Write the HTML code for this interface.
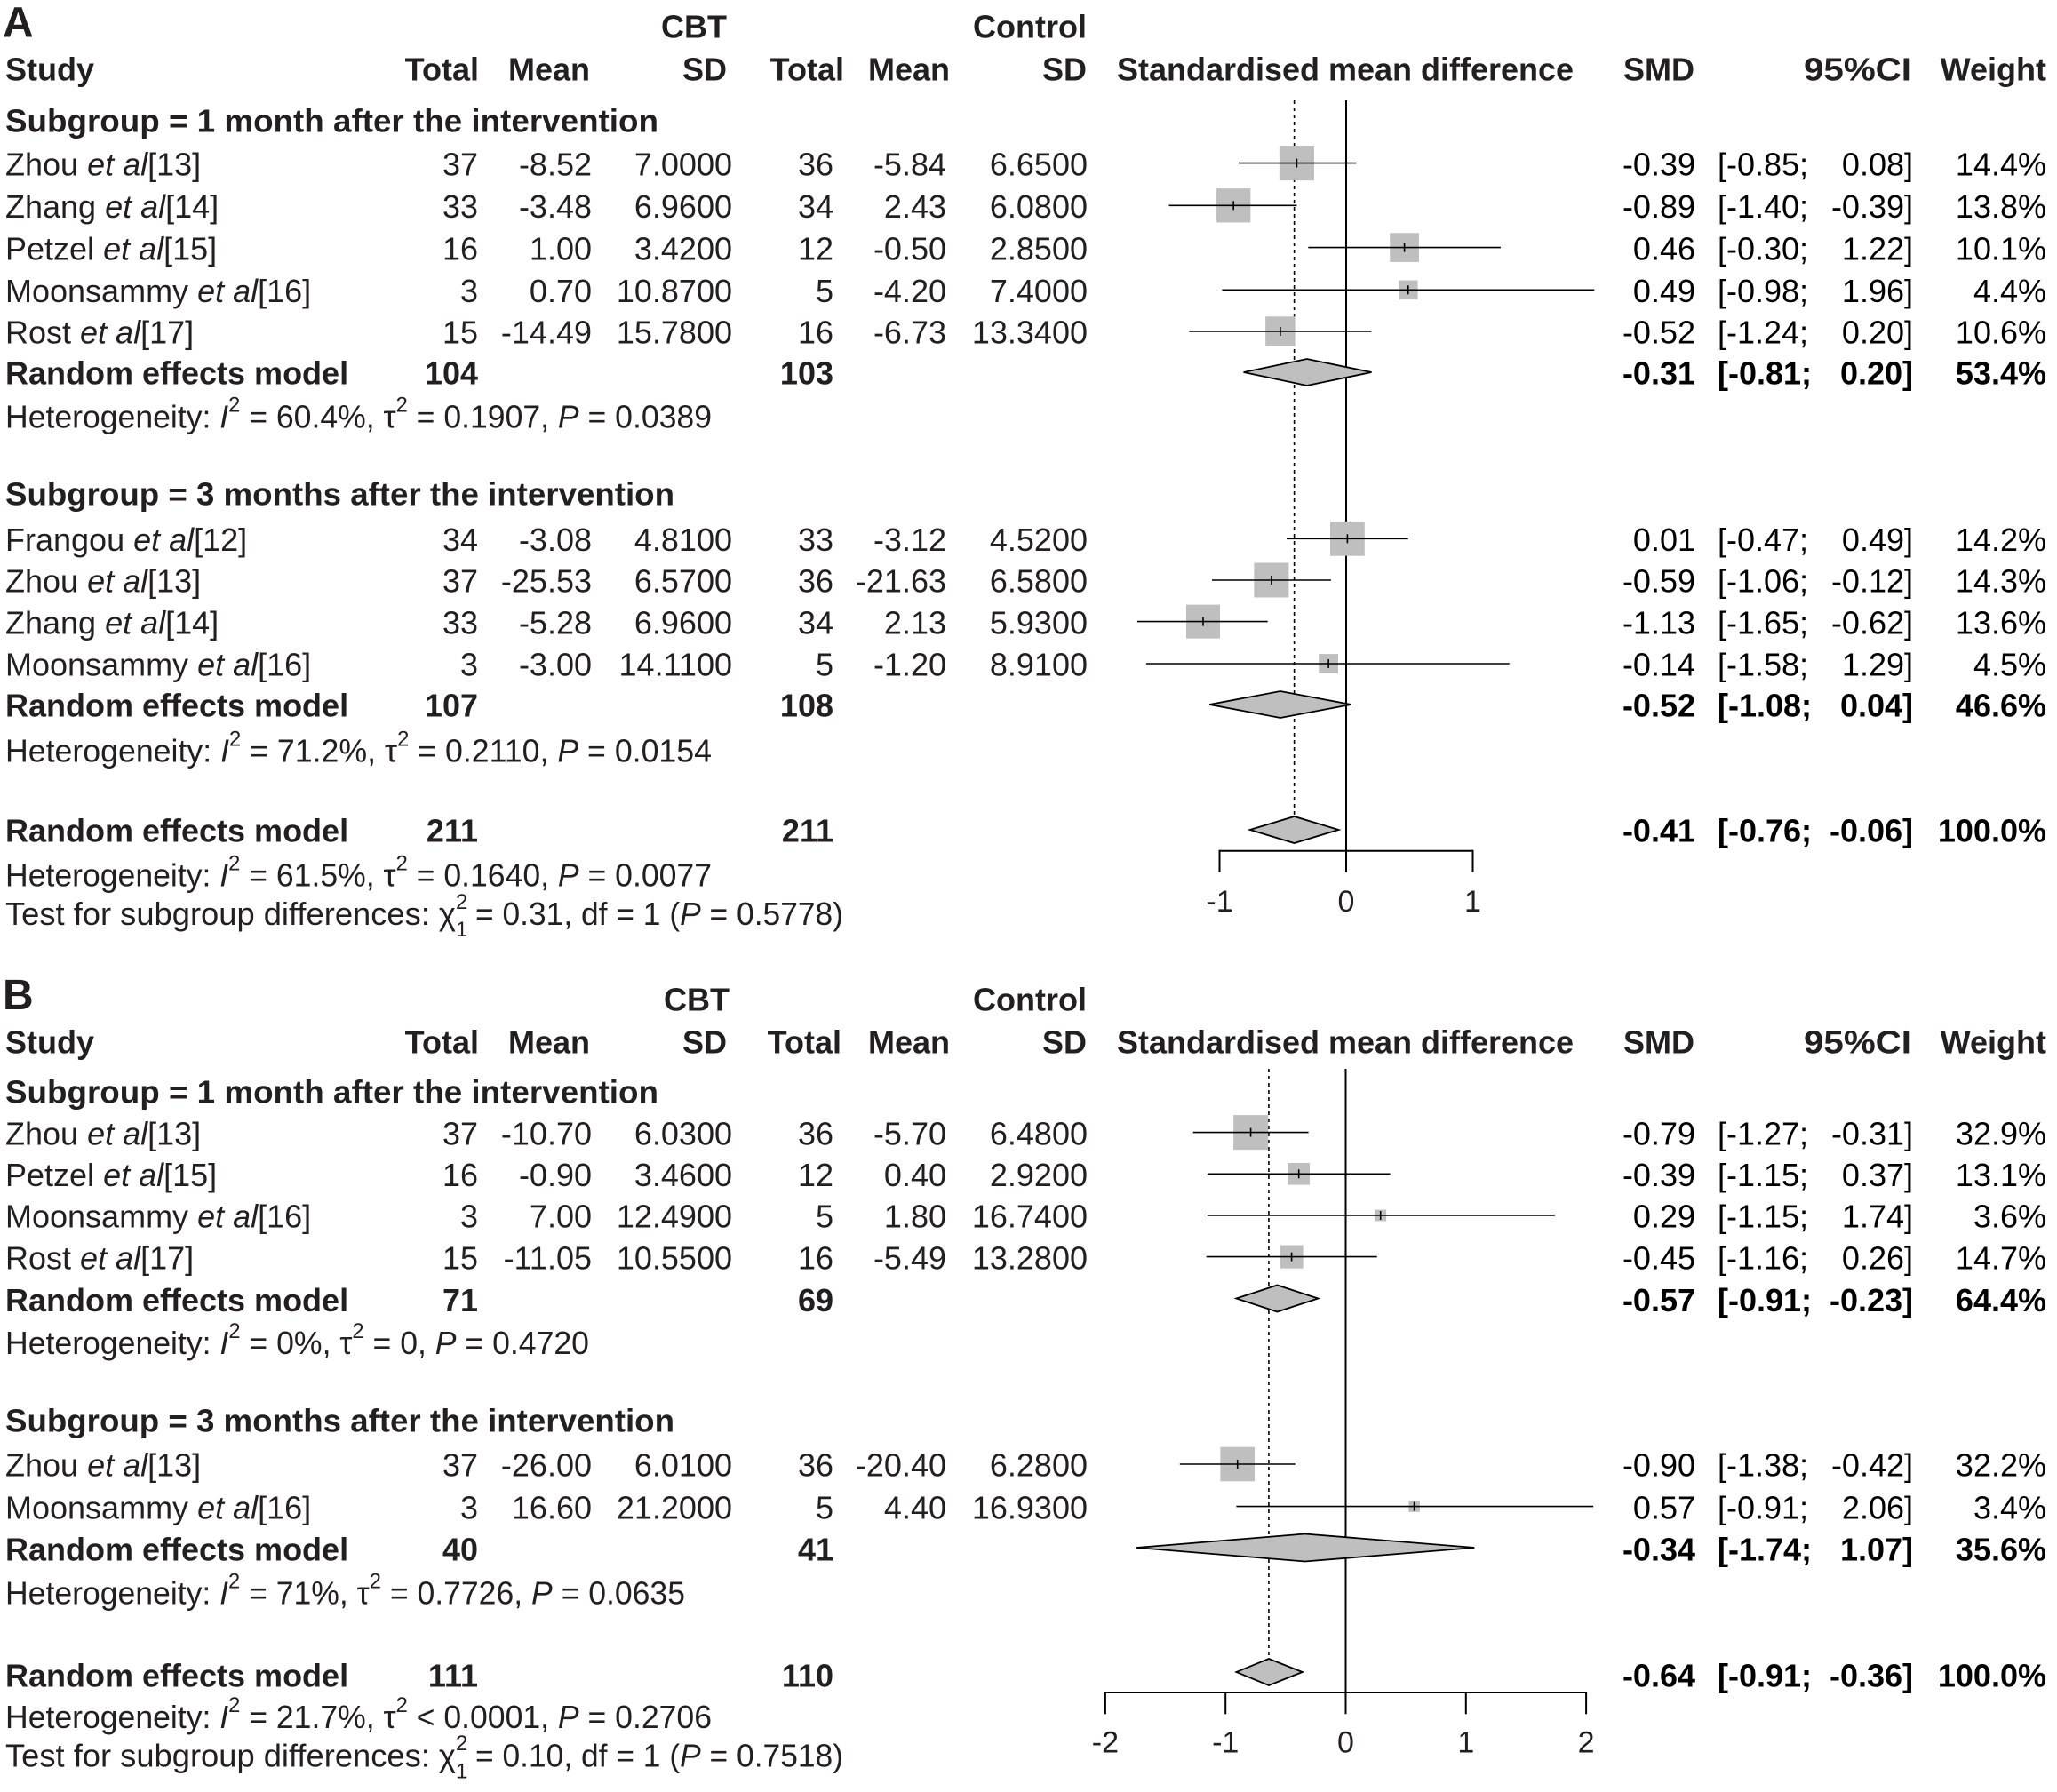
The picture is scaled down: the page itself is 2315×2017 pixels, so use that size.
<!DOCTYPE html>
<html><head><meta charset="utf-8"><style>
html,body{margin:0;padding:0;background:#fff}
svg{display:block}
text{font-family:"Liberation Sans",Arial,sans-serif;font-size:36px;fill:#231f20}
.b{font-weight:bold}.e{text-anchor:end}.m{text-anchor:middle}.k{fill:#000}.i{font-style:italic}
.tk{font-size:34px}
.big{font-size:48px}
.sm{font-size:24px}
tspan.sm{font-size:24px}
</style></head><body>
<svg width="2315" height="2017" viewBox="0 0 2315 2017" xmlns="http://www.w3.org/2000/svg">
<rect width="2315" height="2017" fill="#fff"/>

<!-- ================= PANEL A ================= -->
<text x="3" y="41.7" class="b big" style="font-size:48px">A</text>
<text x="818" y="42.7" class="b e">CBT</text>
<text x="1223" y="42.7" class="b e">Control</text>
<text x="6" y="90.7" class="b">Study</text>
<text x="539" y="90.7" class="b e">Total</text>
<text x="664" y="90.7" class="b e">Mean</text>
<text x="818" y="90.7" class="b e">SD</text>
<text x="950" y="90.7" class="b e">Total</text>
<text x="1069" y="90.7" class="b e">Mean</text>
<text x="1223" y="90.7" class="b e">SD</text>
<text x="1257" y="90.7" class="b" textLength="514" lengthAdjust="spacingAndGlyphs">Standardised mean difference</text>
<text x="1907" y="90.7" class="b e">SMD</text>
<text x="2151" y="90.7" class="b e" textLength="121" lengthAdjust="spacingAndGlyphs">95%CI</text>
<text x="2303" y="90.7" class="b e">Weight</text>

<text x="6" y="148.3" class="b" textLength="735" lengthAdjust="spacingAndGlyphs">Subgroup = 1 month after the intervention</text>

<text x="6" y="197.3">Zhou <tspan class="i">et al</tspan>[13]</text>
<text x="538" y="197.3" class="e">37</text><text x="666" y="197.3" class="e">-8.52</text><text x="824" y="197.3" class="e">7.0000</text>
<text x="938" y="197.3" class="e">36</text><text x="1065" y="197.3" class="e">-5.84</text><text x="1224" y="197.3" class="e">6.6500</text>
<text x="1908" y="197.3" class="e k">-0.39</text><text x="1933" y="197.3" class="k">[-0.85;</text><text x="2153" y="197.3" class="e k">0.08]</text><text x="2303" y="197.3" class="e k">14.4%</text>

<text x="6" y="245">Zhang <tspan class="i">et al</tspan>[14]</text>
<text x="538" y="245" class="e">33</text><text x="666" y="245" class="e">-3.48</text><text x="824" y="245" class="e">6.9600</text>
<text x="938" y="245" class="e">34</text><text x="1065" y="245" class="e">2.43</text><text x="1224" y="245" class="e">6.0800</text>
<text x="1908" y="245" class="e k">-0.89</text><text x="1933" y="245" class="k">[-1.40;</text><text x="2153" y="245" class="e k">-0.39]</text><text x="2303" y="245" class="e k">13.8%</text>

<text x="6" y="292.3">Petzel <tspan class="i">et al</tspan>[15]</text>
<text x="538" y="292.3" class="e">16</text><text x="666" y="292.3" class="e">1.00</text><text x="824" y="292.3" class="e">3.4200</text>
<text x="938" y="292.3" class="e">12</text><text x="1065" y="292.3" class="e">-0.50</text><text x="1224" y="292.3" class="e">2.8500</text>
<text x="1908" y="292.3" class="e k">0.46</text><text x="1933" y="292.3" class="k">[-0.30;</text><text x="2153" y="292.3" class="e k">1.22]</text><text x="2303" y="292.3" class="e k">10.1%</text>

<text x="6" y="340">Moonsammy <tspan class="i">et al</tspan>[16]</text>
<text x="538" y="340" class="e">3</text><text x="666" y="340" class="e">0.70</text><text x="824" y="340" class="e">10.8700</text>
<text x="938" y="340" class="e">5</text><text x="1065" y="340" class="e">-4.20</text><text x="1224" y="340" class="e">7.4000</text>
<text x="1908" y="340" class="e k">0.49</text><text x="1933" y="340" class="k">[-0.98;</text><text x="2153" y="340" class="e k">1.96]</text><text x="2303" y="340" class="e k">4.4%</text>

<text x="6" y="386.7">Rost <tspan class="i">et al</tspan>[17]</text>
<text x="538" y="386.7" class="e">15</text><text x="666" y="386.7" class="e">-14.49</text><text x="824" y="386.7" class="e">15.7800</text>
<text x="938" y="386.7" class="e">16</text><text x="1065" y="386.7" class="e">-6.73</text><text x="1224" y="386.7" class="e">13.3400</text>
<text x="1908" y="386.7" class="e k">-0.52</text><text x="1933" y="386.7" class="k">[-1.24;</text><text x="2153" y="386.7" class="e k">0.20]</text><text x="2303" y="386.7" class="e k">10.6%</text>

<text x="6" y="432.7" class="b">Random effects model</text>
<text x="538" y="432.7" class="b e">104</text><text x="938" y="432.7" class="b e">103</text>
<text x="1908" y="432.7" class="b e k">-0.31</text><text x="1933" y="432.7" class="b k">[-0.81;</text><text x="2153" y="432.7" class="b e k">0.20]</text><text x="2303" y="432.7" class="b e k">53.4%</text>

<text x="6" y="481.7" textLength="795" lengthAdjust="spacingAndGlyphs">Heterogeneity: <tspan class="i">I</tspan><tspan class="sm" dy="-18">2</tspan><tspan dy="18"> = 60.4%, τ</tspan><tspan class="sm" dy="-18">2</tspan><tspan dy="18"> = 0.1907, </tspan><tspan class="i">P</tspan> = 0.0389</text>

<text x="6" y="568.3" class="b" textLength="753" lengthAdjust="spacingAndGlyphs">Subgroup = 3 months after the intervention</text>

<text x="6" y="620">Frangou <tspan class="i">et al</tspan>[12]</text>
<text x="538" y="620" class="e">34</text><text x="666" y="620" class="e">-3.08</text><text x="824" y="620" class="e">4.8100</text>
<text x="938" y="620" class="e">33</text><text x="1065" y="620" class="e">-3.12</text><text x="1224" y="620" class="e">4.5200</text>
<text x="1908" y="620" class="e k">0.01</text><text x="1933" y="620" class="k">[-0.47;</text><text x="2153" y="620" class="e k">0.49]</text><text x="2303" y="620" class="e k">14.2%</text>

<text x="6" y="666.7">Zhou <tspan class="i">et al</tspan>[13]</text>
<text x="538" y="666.7" class="e">37</text><text x="666" y="666.7" class="e">-25.53</text><text x="824" y="666.7" class="e">6.5700</text>
<text x="938" y="666.7" class="e">36</text><text x="1065" y="666.7" class="e">-21.63</text><text x="1224" y="666.7" class="e">6.5800</text>
<text x="1908" y="666.7" class="e k">-0.59</text><text x="1933" y="666.7" class="k">[-1.06;</text><text x="2153" y="666.7" class="e k">-0.12]</text><text x="2303" y="666.7" class="e k">14.3%</text>

<text x="6" y="713.3">Zhang <tspan class="i">et al</tspan>[14]</text>
<text x="538" y="713.3" class="e">33</text><text x="666" y="713.3" class="e">-5.28</text><text x="824" y="713.3" class="e">6.9600</text>
<text x="938" y="713.3" class="e">34</text><text x="1065" y="713.3" class="e">2.13</text><text x="1224" y="713.3" class="e">5.9300</text>
<text x="1908" y="713.3" class="e k">-1.13</text><text x="1933" y="713.3" class="k">[-1.65;</text><text x="2153" y="713.3" class="e k">-0.62]</text><text x="2303" y="713.3" class="e k">13.6%</text>

<text x="6" y="760.7">Moonsammy <tspan class="i">et al</tspan>[16]</text>
<text x="538" y="760.7" class="e">3</text><text x="666" y="760.7" class="e">-3.00</text><text x="824" y="760.7" class="e">14.1100</text>
<text x="938" y="760.7" class="e">5</text><text x="1065" y="760.7" class="e">-1.20</text><text x="1224" y="760.7" class="e">8.9100</text>
<text x="1908" y="760.7" class="e k">-0.14</text><text x="1933" y="760.7" class="k">[-1.58;</text><text x="2153" y="760.7" class="e k">1.29]</text><text x="2303" y="760.7" class="e k">4.5%</text>

<text x="6" y="806.7" class="b">Random effects model</text>
<text x="538" y="806.7" class="b e">107</text><text x="938" y="806.7" class="b e">108</text>
<text x="1908" y="806.7" class="b e k">-0.52</text><text x="1933" y="806.7" class="b k">[-1.08;</text><text x="2153" y="806.7" class="b e k">0.04]</text><text x="2303" y="806.7" class="b e k">46.6%</text>

<text x="6" y="857.3" textLength="795" lengthAdjust="spacingAndGlyphs">Heterogeneity: <tspan class="i">I</tspan><tspan class="sm" dy="-18">2</tspan><tspan dy="18"> = 71.2%, τ</tspan><tspan class="sm" dy="-18">2</tspan><tspan dy="18"> = 0.2110, </tspan><tspan class="i">P</tspan> = 0.0154</text>

<text x="6" y="947.7" class="b">Random effects model</text>
<text x="538" y="947.7" class="b e">211</text><text x="938" y="947.7" class="b e">211</text>
<text x="1908" y="947.7" class="b e k">-0.41</text><text x="1933" y="947.7" class="b k">[-0.76;</text><text x="2153" y="947.7" class="b e k">-0.06]</text><text x="2303" y="947.7" class="b e k">100.0%</text>

<text x="6" y="997.3" textLength="795" lengthAdjust="spacingAndGlyphs">Heterogeneity: <tspan class="i">I</tspan><tspan class="sm" dy="-18">2</tspan><tspan dy="18"> = 61.5%, τ</tspan><tspan class="sm" dy="-18">2</tspan><tspan dy="18"> = 0.1640, </tspan><tspan class="i">P</tspan> = 0.0077</text>

<text x="6" y="1041" textLength="507" lengthAdjust="spacingAndGlyphs">Test for subgroup differences: χ</text>
<text x="513" y="1023" class="sm" style="font-size:24px">2</text>
<text x="513" y="1054" class="sm" style="font-size:24px">1</text>
<text x="535" y="1041" textLength="414" lengthAdjust="spacingAndGlyphs">= 0.31, df = 1 (<tspan class="i">P</tspan> = 0.5778)</text>

<!-- plot A -->
<g stroke="#000" stroke-width="1.6" fill="none">
  <line x1="1456.6" y1="113" x2="1456.6" y2="919" stroke-dasharray="4,4"/>
  <line x1="1515" y1="113" x2="1515" y2="981.7" stroke-width="2"/>
  <line x1="1372.5" y1="957.7" x2="1657.5" y2="957.7" stroke-width="2"/>
  <line x1="1372.5" y1="956.7" x2="1372.5" y2="981.7" stroke-width="2"/>
  <line x1="1657.5" y1="956.7" x2="1657.5" y2="981.7" stroke-width="2"/>
</g>
<g fill="#bfbfbf">
  <rect x="1439.85" y="164.05" width="39.1" height="39.1"/>
  <rect x="1369.05" y="212.15" width="38.3" height="38.3"/>
  <rect x="1564.25" y="262.25" width="32.7" height="32.7"/>
  <rect x="1574.0" y="315.5" width="21.6" height="21.6"/>
  <rect x="1424.15" y="356.25" width="33.5" height="33.5"/>
  <rect x="1497.0" y="586.9" width="38.8" height="38.8"/>
  <rect x="1411.4" y="633.5" width="39.0" height="39.0"/>
  <rect x="1335.0" y="680.6" width="38.0" height="38.0"/>
  <rect x="1484.2" y="736.1" width="21.8" height="21.8"/>
</g>
<g stroke="#000" stroke-width="1.6">
  <line x1="1393.9" y1="183.6" x2="1526.4" y2="183.6"/><line x1="1459.4" y1="178.6" x2="1459.4" y2="188.6"/>
  <line x1="1315.5" y1="231.3" x2="1459.4" y2="231.3"/><line x1="1388.2" y1="226.3" x2="1388.2" y2="236.3"/>
  <line x1="1472.3" y1="278.6" x2="1688.9" y2="278.6"/><line x1="1580.6" y1="273.6" x2="1580.6" y2="283.6"/>
  <line x1="1375.4" y1="326.3" x2="1794.3" y2="326.3"/><line x1="1584.8" y1="321.3" x2="1584.8" y2="331.3"/>
  <line x1="1338.3" y1="373" x2="1543.5" y2="373"/><line x1="1440.9" y1="368" x2="1440.9" y2="378"/>
  <line x1="1448.0" y1="606.3" x2="1584.8" y2="606.3"/><line x1="1516.4" y1="601.3" x2="1516.4" y2="611.3"/>
  <line x1="1364.0" y1="653" x2="1497.9" y2="653"/><line x1="1430.9" y1="648" x2="1430.9" y2="658"/>
  <line x1="1279.9" y1="699.6" x2="1426.7" y2="699.6"/><line x1="1354.0" y1="694.6" x2="1354.0" y2="704.6"/>
  <line x1="1289.9" y1="747" x2="1698.8" y2="747"/><line x1="1495.1" y1="742" x2="1495.1" y2="752"/>
</g>
<g fill="#bfbfbf" stroke="#000" stroke-width="1.8">
  <polygon points="1399.6,419 1470.8,404 1543.5,419 1470.8,434"/>
  <polygon points="1361.1,793 1440.9,778 1520.7,793 1440.9,808"/>
  <polygon points="1406.7,934 1456.6,919 1506.5,934 1456.6,949"/>
</g>
<text x="1372.5" y="1026" class="m tk">-1</text>
<text x="1515" y="1026" class="m tk">0</text>
<text x="1657.5" y="1026" class="m tk">1</text>

<!-- ================= PANEL B ================= -->
<text x="3" y="1136" class="b big" style="font-size:48px">B</text>
<text x="821" y="1137.3" class="b e">CBT</text>
<text x="1223" y="1137.3" class="b e">Control</text>
<text x="6" y="1185.7" class="b">Study</text>
<text x="539" y="1185.7" class="b e">Total</text>
<text x="664" y="1185.7" class="b e">Mean</text>
<text x="818" y="1185.7" class="b e">SD</text>
<text x="947" y="1185.7" class="b e">Total</text>
<text x="1069" y="1185.7" class="b e">Mean</text>
<text x="1223" y="1185.7" class="b e">SD</text>
<text x="1257" y="1185.7" class="b" textLength="514" lengthAdjust="spacingAndGlyphs">Standardised mean difference</text>
<text x="1907" y="1185.7" class="b e">SMD</text>
<text x="2151" y="1185.7" class="b e" textLength="121" lengthAdjust="spacingAndGlyphs">95%CI</text>
<text x="2303" y="1185.7" class="b e">Weight</text>

<text x="6" y="1241.7" class="b" textLength="735" lengthAdjust="spacingAndGlyphs">Subgroup = 1 month after the intervention</text>

<text x="6" y="1288.3">Zhou <tspan class="i">et al</tspan>[13]</text>
<text x="538" y="1288.3" class="e">37</text><text x="666" y="1288.3" class="e">-10.70</text><text x="824" y="1288.3" class="e">6.0300</text>
<text x="938" y="1288.3" class="e">36</text><text x="1065" y="1288.3" class="e">-5.70</text><text x="1224" y="1288.3" class="e">6.4800</text>
<text x="1908" y="1288.3" class="e k">-0.79</text><text x="1933" y="1288.3" class="k">[-1.27;</text><text x="2153" y="1288.3" class="e k">-0.31]</text><text x="2303" y="1288.3" class="e k">32.9%</text>

<text x="6" y="1335">Petzel <tspan class="i">et al</tspan>[15]</text>
<text x="538" y="1335" class="e">16</text><text x="666" y="1335" class="e">-0.90</text><text x="824" y="1335" class="e">3.4600</text>
<text x="938" y="1335" class="e">12</text><text x="1065" y="1335" class="e">0.40</text><text x="1224" y="1335" class="e">2.9200</text>
<text x="1908" y="1335" class="e k">-0.39</text><text x="1933" y="1335" class="k">[-1.15;</text><text x="2153" y="1335" class="e k">0.37]</text><text x="2303" y="1335" class="e k">13.1%</text>

<text x="6" y="1381.7">Moonsammy <tspan class="i">et al</tspan>[16]</text>
<text x="538" y="1381.7" class="e">3</text><text x="666" y="1381.7" class="e">7.00</text><text x="824" y="1381.7" class="e">12.4900</text>
<text x="938" y="1381.7" class="e">5</text><text x="1065" y="1381.7" class="e">1.80</text><text x="1224" y="1381.7" class="e">16.7400</text>
<text x="1908" y="1381.7" class="e k">0.29</text><text x="1933" y="1381.7" class="k">[-1.15;</text><text x="2153" y="1381.7" class="e k">1.74]</text><text x="2303" y="1381.7" class="e k">3.6%</text>

<text x="6" y="1428.3">Rost <tspan class="i">et al</tspan>[17]</text>
<text x="538" y="1428.3" class="e">15</text><text x="666" y="1428.3" class="e">-11.05</text><text x="824" y="1428.3" class="e">10.5500</text>
<text x="938" y="1428.3" class="e">16</text><text x="1065" y="1428.3" class="e">-5.49</text><text x="1224" y="1428.3" class="e">13.2800</text>
<text x="1908" y="1428.3" class="e k">-0.45</text><text x="1933" y="1428.3" class="k">[-1.16;</text><text x="2153" y="1428.3" class="e k">0.26]</text><text x="2303" y="1428.3" class="e k">14.7%</text>

<text x="6" y="1476" class="b">Random effects model</text>
<text x="538" y="1476" class="b e">71</text><text x="938" y="1476" class="b e">69</text>
<text x="1908" y="1476" class="b e k">-0.57</text><text x="1933" y="1476" class="b k">[-0.91;</text><text x="2153" y="1476" class="b e k">-0.23]</text><text x="2303" y="1476" class="b e k">64.4%</text>

<text x="6" y="1524" textLength="657" lengthAdjust="spacingAndGlyphs">Heterogeneity: <tspan class="i">I</tspan><tspan class="sm" dy="-18">2</tspan><tspan dy="18"> = 0%, τ</tspan><tspan class="sm" dy="-18">2</tspan><tspan dy="18"> = 0, </tspan><tspan class="i">P</tspan> = 0.4720</text>

<text x="6" y="1611.7" class="b" textLength="753" lengthAdjust="spacingAndGlyphs">Subgroup = 3 months after the intervention</text>

<text x="6" y="1661.7">Zhou <tspan class="i">et al</tspan>[13]</text>
<text x="538" y="1661.7" class="e">37</text><text x="666" y="1661.7" class="e">-26.00</text><text x="824" y="1661.7" class="e">6.0100</text>
<text x="938" y="1661.7" class="e">36</text><text x="1065" y="1661.7" class="e">-20.40</text><text x="1224" y="1661.7" class="e">6.2800</text>
<text x="1908" y="1661.7" class="e k">-0.90</text><text x="1933" y="1661.7" class="k">[-1.38;</text><text x="2153" y="1661.7" class="e k">-0.42]</text><text x="2303" y="1661.7" class="e k">32.2%</text>

<text x="6" y="1709.3">Moonsammy <tspan class="i">et al</tspan>[16]</text>
<text x="538" y="1709.3" class="e">3</text><text x="666" y="1709.3" class="e">16.60</text><text x="824" y="1709.3" class="e">21.2000</text>
<text x="938" y="1709.3" class="e">5</text><text x="1065" y="1709.3" class="e">4.40</text><text x="1224" y="1709.3" class="e">16.9300</text>
<text x="1908" y="1709.3" class="e k">0.57</text><text x="1933" y="1709.3" class="k">[-0.91;</text><text x="2153" y="1709.3" class="e k">2.06]</text><text x="2303" y="1709.3" class="e k">3.4%</text>

<text x="6" y="1756.7" class="b">Random effects model</text>
<text x="538" y="1756.7" class="b e">40</text><text x="938" y="1756.7" class="b e">41</text>
<text x="1908" y="1756.7" class="b e k">-0.34</text><text x="1933" y="1756.7" class="b k">[-1.74;</text><text x="2153" y="1756.7" class="b e k">1.07]</text><text x="2303" y="1756.7" class="b e k">35.6%</text>

<text x="6" y="1805.7" textLength="765" lengthAdjust="spacingAndGlyphs">Heterogeneity: <tspan class="i">I</tspan><tspan class="sm" dy="-18">2</tspan><tspan dy="18"> = 71%, τ</tspan><tspan class="sm" dy="-18">2</tspan><tspan dy="18"> = 0.7726, </tspan><tspan class="i">P</tspan> = 0.0635</text>

<text x="6" y="1898.3" class="b">Random effects model</text>
<text x="538" y="1898.3" class="b e">111</text><text x="938" y="1898.3" class="b e">110</text>
<text x="1908" y="1898.3" class="b e k">-0.64</text><text x="1933" y="1898.3" class="b k">[-0.91;</text><text x="2153" y="1898.3" class="b e k">-0.36]</text><text x="2303" y="1898.3" class="b e k">100.0%</text>

<text x="6" y="1945" textLength="795" lengthAdjust="spacingAndGlyphs">Heterogeneity: <tspan class="i">I</tspan><tspan class="sm" dy="-18">2</tspan><tspan dy="18"> = 21.7%, τ</tspan><tspan class="sm" dy="-18">2</tspan><tspan dy="18"> &lt; 0.0001, </tspan><tspan class="i">P</tspan> = 0.2706</text>

<text x="6" y="1988.3" textLength="507" lengthAdjust="spacingAndGlyphs">Test for subgroup differences: χ</text>
<text x="513" y="1970" class="sm" style="font-size:24px">2</text>
<text x="513" y="2001.7" class="sm" style="font-size:24px">1</text>
<text x="535" y="1988.3" textLength="414" lengthAdjust="spacingAndGlyphs">= 0.10, df = 1 (<tspan class="i">P</tspan> = 0.7518)</text>

<!-- plot B -->
<g stroke="#000" stroke-width="1.6" fill="none">
  <line x1="1427.9" y1="1203" x2="1427.9" y2="1867" stroke-dasharray="4,4"/>
  <line x1="1514.5" y1="1203" x2="1514.5" y2="1929.3" stroke-width="2"/>
  <line x1="1243.9" y1="1905" x2="1785.1" y2="1905" stroke-width="2"/>
  <line x1="1243.9" y1="1904" x2="1243.9" y2="1929.3" stroke-width="2"/>
  <line x1="1379.2" y1="1904" x2="1379.2" y2="1929.3" stroke-width="2"/>
  <line x1="1649.8" y1="1904" x2="1649.8" y2="1929.3" stroke-width="2"/>
  <line x1="1785.1" y1="1904" x2="1785.1" y2="1929.3" stroke-width="2"/>
</g>
<g fill="#bfbfbf">
  <rect x="1388.1" y="1255.1" width="39.0" height="39.0"/>
  <rect x="1449.4" y="1309.0" width="24.6" height="24.6"/>
  <rect x="1547.25" y="1361.55" width="12.9" height="12.9"/>
  <rect x="1440.55" y="1401.55" width="26.1" height="26.1"/>
  <rect x="1373.4" y="1628.7" width="38.6" height="38.6"/>
  <rect x="1585.35" y="1689.35" width="12.5" height="12.5"/>
</g>
<g stroke="#000" stroke-width="1.6">
  <line x1="1342.7" y1="1274.6" x2="1472.6" y2="1274.6"/><line x1="1407.6" y1="1269.6" x2="1407.6" y2="1279.6"/>
  <line x1="1358.9" y1="1321.3" x2="1564.6" y2="1321.3"/><line x1="1461.7" y1="1316.3" x2="1461.7" y2="1326.3"/>
  <line x1="1358.9" y1="1368" x2="1749.9" y2="1368"/><line x1="1553.7" y1="1363" x2="1553.7" y2="1373"/>
  <line x1="1357.6" y1="1414.6" x2="1549.7" y2="1414.6"/><line x1="1453.6" y1="1409.6" x2="1453.6" y2="1419.6"/>
  <line x1="1327.8" y1="1648" x2="1457.7" y2="1648"/><line x1="1392.7" y1="1643" x2="1392.7" y2="1653"/>
  <line x1="1391.4" y1="1695.6" x2="1793.2" y2="1695.6"/><line x1="1591.6" y1="1690.6" x2="1591.6" y2="1700.6"/>
</g>
<g fill="#bfbfbf" stroke="#000" stroke-width="1.8">
  <polygon points="1391.4,1461.5 1437.4,1446.5 1483.4,1461.5 1437.4,1476.5"/>
  <polygon points="1279.1,1742 1468.5,1726.5 1659.3,1742 1468.5,1757.5"/>
  <polygon points="1391.4,1882 1427.9,1867 1465.8,1882 1427.9,1897"/>
</g>
<text x="1243.9" y="1972.7" class="m tk">-2</text>
<text x="1379.2" y="1972.7" class="m tk">-1</text>
<text x="1514.5" y="1972.7" class="m tk">0</text>
<text x="1649.8" y="1972.7" class="m tk">1</text>
<text x="1785.1" y="1972.7" class="m tk">2</text>
</svg>
</body></html>
